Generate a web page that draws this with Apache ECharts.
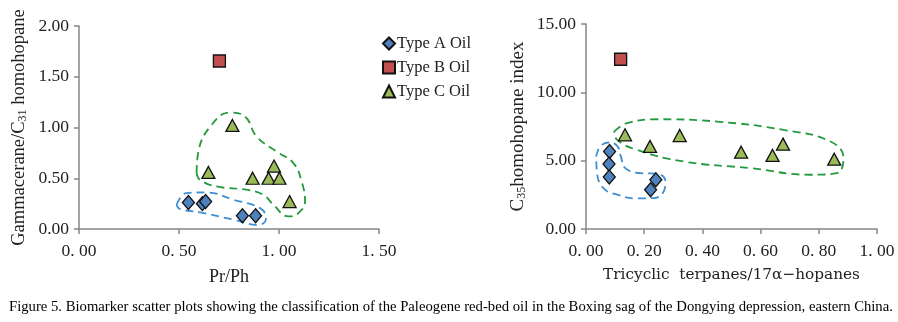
<!DOCTYPE html>
<html>
<head>
<meta charset="utf-8">
<script src="https://cdn.jsdelivr.net/npm/echarts@6/dist/echarts.min.js"></script>
<style>
  html, body { margin: 0; padding: 0; background: #fff; }
  #chart { width: 898px; height: 322px; }
</style>
</head>
<body>
<div id="chart"></div>
<script>
/*
* Biomarker scatter plots (two panels)
*/
var myChart = echarts.init(document.getElementById('chart'));

// left panel: Pr/Ph vs Gammacerane/C31 homohopane
var leftA = [[0.547, 0.26], [0.617, 0.25], [0.633, 0.27], [0.817, 0.13], [0.883, 0.13]];
var leftB = [[0.702, 1.655]];
var leftC = [[0.767, 1.02], [0.647, 0.557], [0.868, 0.50], [0.975, 0.62], [0.948, 0.50], [1.002, 0.50], [1.053, 0.27]];
// right panel: Tricyclic terpanes/17a-hopanes vs C35 homohopane index
var rightA = [[0.081, 5.67], [0.079, 4.75], [0.080, 3.80], [0.222, 2.87], [0.240, 3.60]];
var rightB = [[0.119, 12.42]];
var rightC = [[0.134, 6.89], [0.220, 6.04], [0.322, 6.84], [0.533, 5.62], [0.641, 5.38], [0.677, 6.21], [0.853, 5.11]];

// hand drawn dashed group outlines (data coordinates)
var leftAOutline = [[0.488, 0.239], [0.538, 0.354], [0.637, 0.36], [0.772, 0.288], [0.905, 0.206], [0.935, 0.108],
  [0.897, 0.039], [0.772, 0.092], [0.605, 0.164], [0.505, 0.197], [0.488, 0.239]];
var leftCOutline = [[0.588, 0.551], [0.597, 0.763], [0.663, 1.026], [0.755, 1.147], [0.83, 1.108], [0.888, 0.911],
  [0.988, 0.763], [1.072, 0.649], [1.113, 0.468], [1.13, 0.271], [1.097, 0.157], [1.047, 0.124], [0.972, 0.239],
  [0.922, 0.337], [0.838, 0.387], [0.688, 0.419], [0.605, 0.485], [0.588, 0.551]];
var rightAOutline = [[0.035, 5.30], [0.049, 6.04], [0.078, 6.33], [0.107, 6.08], [0.12, 5.30], [0.135, 4.45],
  [0.187, 4.09], [0.244, 4.04], [0.273, 3.48], [0.267, 2.75], [0.232, 2.26], [0.175, 2.24], [0.107, 2.51],
  [0.06, 2.99], [0.038, 4.09], [0.035, 5.30]];
var rightCOutline = [[0.097, 7.13], [0.141, 7.74], [0.244, 8.03], [0.45, 7.86], [0.679, 7.25], [0.84, 6.40],
  [0.885, 5.18], [0.862, 4.09], [0.771, 3.97], [0.565, 4.45], [0.335, 4.94], [0.175, 5.79], [0.107, 6.52], [0.097, 7.13]];

// tick labels
var leftXLabels = ['0. 00', '0. 50', '1. 00', '1. 50'];
var leftYLabels = ['0.00', '0.50', '1.00', '1.50', '2.00'];
var rightXLabels = ['0. 00', '0. 20', '0. 40', '0. 60', '0. 80', '1. 00'];
var rightYLabels = ['0.00', '5.00', '10.00', '15.00'];

var seriesNames = ['Type A Oil', 'Type B Oil', 'Type C Oil'];
var caption = 'Figure 5. Biomarker scatter plots showing the classification of the Paleogene red-bed oil in the Boxing sag of the Dongying depression, eastern China.';

var font = 'Liberation Serif';
var axisColor = '#868686';
var colorA = '#4F81BD', colorB = '#C0504D', colorC = '#9BBB59';
var blueDash = '#3F8FD2', greenDash = '#239A3E';

function axisCommon() {
  return {
    type: 'value',
    axisLine: { show: true, lineStyle: { color: axisColor, width: 1.5 } },
    axisTick: { show: true, inside: false, length: 5, lineStyle: { color: axisColor, width: 1.5 } },
    splitLine: { show: false },
    axisLabel: { color: '#222', fontFamily: font, fontSize: 17.5 },
    nameLocation: 'middle',
    nameTextStyle: { color: '#222', fontFamily: font, fontSize: 18 }
  };
}

function xAx(idx, min, max, interval, labels, name, gap, nameStyle) {
  var a = axisCommon();
  a.gridIndex = idx; a.min = min; a.max = max; a.interval = interval;
  a.axisLabel.margin = 13;
  a.axisLabel.formatter = function (v) { return labels[Math.round((v - min) / interval)]; };
  a.name = name; a.nameGap = gap;
  if (nameStyle) { Object.assign(a.nameTextStyle, nameStyle); }
  return a;
}
function yAx(idx, min, max, interval, labels, name, gap, size) {
  var a = axisCommon();
  a.gridIndex = idx; a.min = min; a.max = max; a.interval = interval;
  a.axisLabel.margin = 10;
  a.axisLabel.formatter = function (v) { return labels[Math.round((v - min) / interval)]; };
  a.name = name; a.nameGap = gap;
  a.nameTextStyle.fontSize = size;
  a.nameTextStyle.rich = {
    sub: { fontFamily: font, fontSize: Math.round(size * 0.65), verticalAlign: 'bottom', padding: [7, 0, 0, 0], color: '#222' }
  };
  return a;
}

function scatter(name, data, gi, symbol, size, color) {
  return {
    name: name, type: 'scatter', xAxisIndex: gi, yAxisIndex: gi,
    data: data, symbol: symbol, symbolSize: size, z: 5,
    itemStyle: { color: color, borderColor: '#111', borderWidth: 1.3, opacity: 1 }
  };
}
function outline(data, gi, color) {
  return {
    type: 'line', xAxisIndex: gi, yAxisIndex: gi, data: data, smooth: 0.45,
    symbol: 'none', silent: true, z: 2,
    lineStyle: { color: color, width: 1.8, type: [8, 5] }
  };
}

var option = {
  animation: false,
  backgroundColor: '#fff',
  title: {
    text: caption, left: 4, top: 295,
    textStyle: { fontFamily: font, fontSize: 14.7, fontWeight: 'normal', color: '#000' }
  },
  legend: {
    data: seriesNames, orient: 'vertical', left: 382, top: 35, padding: 0,
    itemWidth: 12, itemHeight: 12, itemGap: 7,
    textStyle: { fontFamily: font, fontSize: 16.5, color: '#222', padding: [0, 0, 0, -3] }
  },
  grid: [
    { left: 79, top: 26, width: 300, height: 203 },
    { left: 586, top: 24, width: 291, height: 205 }
  ],
  xAxis: [
    xAx(0, 0, 1.5, 0.5, leftXLabels, 'Pr/Ph', 39),
    xAx(1, 0, 1, 0.2, rightXLabels, 'Tricyclic  terpanes/17α−hopanes', 39, { fontFamily: 'DejaVu Serif', fontSize: 15.3 })
  ],
  yAxis: [
    yAx(0, 0, 2, 0.5, leftYLabels, 'Gammacerane/C{sub|31} homohopane', 50, 18.5),
    yAx(1, 0, 15, 5, rightYLabels, 'C{sub|35}homohopane index', 58, 19)
  ],
  series: [
    outline(leftAOutline, 0, blueDash),
    outline(leftCOutline, 0, greenDash),
    outline(rightAOutline, 1, blueDash),
    outline(rightCOutline, 1, greenDash),
    scatter(seriesNames[0], leftA, 0, 'diamond', [12, 14], colorA),
    scatter(seriesNames[1], leftB, 0, 'rect', 12, colorB),
    scatter(seriesNames[2], leftC, 0, 'triangle', [13, 12], colorC),
    scatter(seriesNames[0], rightA, 1, 'diamond', [12, 14], colorA),
    scatter(seriesNames[1], rightB, 1, 'rect', 12, colorB),
    scatter(seriesNames[2], rightC, 1, 'triangle', [13, 12], colorC)
  ]
};
myChart.setOption(option);
</script>
</body>
</html>
